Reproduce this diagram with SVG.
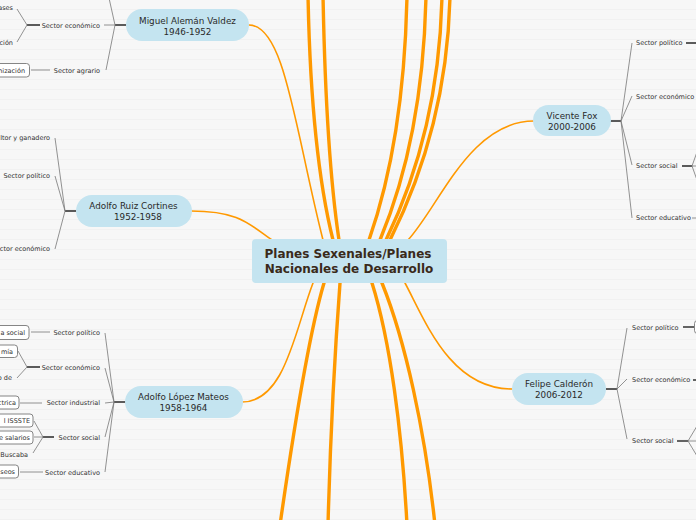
<svg xmlns="http://www.w3.org/2000/svg" width="696" height="520" viewBox="0 0 696 520">
<defs>
<pattern id="stripes" width="696" height="10" patternUnits="userSpaceOnUse">
<rect width="696" height="10" fill="#f7f7f7"/>
<line x1="0" y1="9.5" x2="696" y2="9.5" stroke="#f1f1f1" stroke-width="1"/>
</pattern>
<style>
.main{fill:none;stroke:#f90;stroke-width:3.4;stroke-linecap:round}
.thin{fill:none;stroke:#f90;stroke-width:1.6;stroke-linecap:round}
.g{fill:none;stroke:#777;stroke-width:0.8}
.d{fill:none;stroke:#333;stroke-width:1.6}
.box{fill:#fff;stroke:#777;stroke-width:0.9}
.pill{fill:#c4e4f0}
.nt{font-family:"DejaVu Sans",Verdana,sans-serif;font-size:8.8px;fill:#2a2a2a;text-anchor:middle}
.st{font-family:"DejaVu Sans",Verdana,sans-serif;font-size:6.5px;fill:#333}
.e{text-anchor:end}
.title{font-family:"DejaVu Sans",Verdana,sans-serif;font-size:12px;font-weight:bold;fill:#3a2a1a;text-anchor:middle}
</style>
</defs>
<rect width="696" height="520" fill="url(#stripes)"/>

<g id="connectors">
<!-- top -->
<path class="thin" d="M249,25 C285,25 295,130 323,240"/>
<path class="main" d="M308,-5 C310,100 318,180 333,240"/>
<path class="main" d="M323,-5 C325,100 330,180 339,240"/>
<path class="main" d="M407,-5 C405,100 390,180 369,240"/>
<path class="main" d="M426,-5 C424,100 405,180 380,240"/>
<path class="main" d="M442,-5 C440,100 415,180 386,240"/>
<path class="main" d="M450,-5 C448,100 420,180 390,240"/>
<path class="thin" d="M408,240 C440,205 470,121 534,121"/>
<path class="thin" d="M191,211 C240,211 250,225 272,240"/>
<!-- bottom -->
<path class="thin" d="M313,283 C295,330 285,402 242,402"/>
<path class="main" d="M324,283 C310,330 295,420 280,525"/>
<path class="main" d="M340,283 C335,350 330,450 328,525"/>
<path class="main" d="M372,283 C390,340 402,430 407,525"/>
<path class="main" d="M382,283 C405,340 425,430 435,525"/>
<path class="thin" d="M405,283 C425,320 450,389 512,389"/>

<!-- Miguel Aleman subtree -->
<path class="d" d="M115,25 H126"/>
<path class="g" d="M104,25 H115 M115,25 L106,70 M115,25 L109,-2"/>
<path class="d" d="M27,25 H40"/>
<path class="g" d="M27,25 L17,9 M27,25 L17,42 M31,70 H50"/>
<!-- Ruiz Cortines subtree -->
<path class="d" d="M65,211 H76"/>
<path class="g" d="M65,211 L55,138 M65,211 L55,176 M65,211 L55,249"/>
<!-- Lopez Mateos subtree -->
<path class="d" d="M114,402 H126"/>
<path class="g" d="M114,402 L105,333 M114,402 L105,368 M114,402 L105,403 M114,402 L105,437 M114,402 L105,472"/>
<path class="g" d="M31,332 H50"/>
<path class="d" d="M27,367 H40"/>
<path class="g" d="M27,367 L18,351 M27,367 L17,378"/>
<path class="g" d="M20,403 H42"/>
<path class="d" d="M43,437 H54"/>
<path class="g" d="M43,437 L34,421 M43,437 L34,437 M43,437 L33,453"/>
<path class="g" d="M20,472 H43"/>
<!-- Fox subtree -->
<path class="d" d="M610,121 H621"/>
<path class="g" d="M621,121 L632,43 M621,121 L632,96 M621,121 L632,165 M621,121 L632,218"/>
<path class="d" d="M686,43 H697"/>
<path class="d" d="M682,166 H692"/>
<path class="g" d="M692,166 L697,152 M692,166 L697,166 M692,166 L697,180 M692,218 H697"/>
<!-- Calderon subtree -->
<path class="d" d="M606,389 H617"/>
<path class="g" d="M617,389 L627,328 M617,389 L627,379 M617,389 L627,439"/>
<path class="d" d="M683,327 H694 M693,380 H697 M677,441 H688"/>
<path class="g" d="M688,441 L697,426 M688,441 L697,441 M688,441 L697,456"/>
</g>

<g id="center">
<rect x="252" y="239" width="195" height="44" rx="4" class="pill"/>
<text class="title" x="348" y="258">Planes Sexenales/Planes</text>
<text class="title" x="349" y="273">Nacionales de Desarrollo</text>
</g>

<g id="aleman">
<rect x="126" y="9" width="123" height="32" rx="16" class="pill"/>
<text class="nt" x="187.5" y="23.5">Miguel Alemán Valdez</text>
<text class="nt" x="187.5" y="34.5">1946-1952</text>
</g>
<g id="aleman-children">
<text class="st e" x="100" y="27.5">Sector económico</text>
<text class="st e" x="100" y="72.5">Sector agrario</text>
<text class="st e" x="13" y="9.5">ases</text>
<text class="st e" x="13" y="45">ción</text>
<rect class="box" x="-10" y="63.5" width="39.5" height="13.5" rx="3"/>
<text class="st e" x="25" y="72.5">nización</text>
</g>

<g id="ruiz">
<rect x="76" y="195" width="116" height="32" rx="16" class="pill"/>
<text class="nt" x="133.5" y="209">Adolfo Ruiz Cortines</text>
<text class="nt" x="138" y="220">1952-1958</text>
</g>
<g id="ruiz-children">
<text class="st e" x="50" y="140">ltor y ganadero</text>
<text class="st e" x="50" y="178">Sector político</text>
<text class="st e" x="50" y="251">ctor económico</text>
</g>

<g id="lopez">
<rect x="125" y="386" width="118" height="32" rx="16" class="pill"/>
<text class="nt" x="183.5" y="400">Adolfo López Mateos</text>
<text class="nt" x="183.5" y="411">1958-1964</text>
</g>
<g id="lopez-children">
<text class="st e" x="100" y="335">Sector político</text>
<text class="st e" x="100" y="370">Sector económico</text>
<text class="st e" x="100" y="405">Sector industrial</text>
<text class="st e" x="100" y="439.5">Sector social</text>
<text class="st e" x="100" y="474.5">Sector educativo</text>
<rect class="box" x="-10" y="325.5" width="39" height="14" rx="3"/>
<text class="st e" x="25" y="335">a social</text>
<rect class="box" x="-10" y="345" width="27.5" height="12.5" rx="3"/>
<text class="st e" x="13" y="353.5">mía</text>
<text class="st e" x="12" y="380">o de</text>
<rect class="box" x="-10" y="396" width="29" height="13" rx="3"/>
<text class="st e" x="16" y="405">ctrica</text>
<rect class="box" x="-10" y="414" width="43" height="13" rx="3"/>
<text class="st e" x="30" y="423">l ISSSTE</text>
<rect class="box" x="-10" y="431" width="43" height="13" rx="3"/>
<text class="st e" x="30" y="440">e salarios</text>
<text class="st e" x="28" y="457">Buscaba</text>
<rect class="box" x="-10" y="465" width="28.5" height="13" rx="3"/>
<text class="st e" x="15" y="474">seos</text>
</g>

<g id="fox">
<rect x="533" y="105" width="78" height="31" rx="15.5" class="pill"/>
<text class="nt" x="572" y="119">Vicente Fox</text>
<text class="nt" x="572" y="130">2000-2006</text>
</g>
<g id="fox-children">
<text class="st" x="636" y="45">Sector político</text>
<text class="st" x="636" y="99">Sector económico</text>
<text class="st" x="636" y="168">Sector social</text>
<text class="st" x="636" y="220">Sector educativo</text>
</g>

<g id="calderon">
<rect x="512" y="373" width="94" height="32" rx="16" class="pill"/>
<text class="nt" x="559" y="387">Felipe Calderón</text>
<text class="nt" x="559" y="398">2006-2012</text>
</g>
<g id="calderon-children">
<text class="st" x="632" y="330">Sector político</text>
<text class="st" x="632" y="382">Sector económico</text>
<text class="st" x="632" y="443">Sector social</text>
<rect class="box" x="694.5" y="320.5" width="20" height="13" rx="3"/>
</g>
</svg>
